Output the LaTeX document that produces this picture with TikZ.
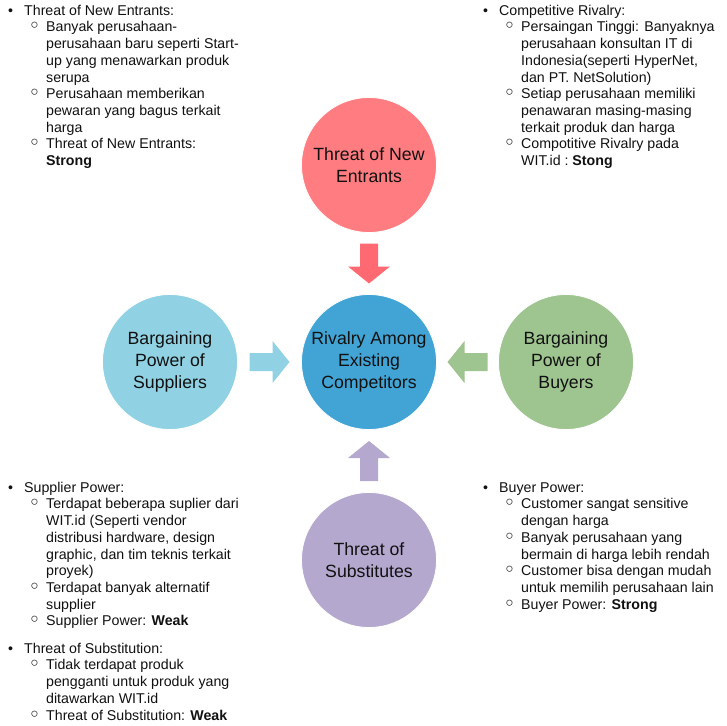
\documentclass[tikz,border=0pt]{standalone}
\usepackage{fontspec}
\setmainfont{Liberation Sans}
\newfontfamily\dejavu{DejaVu Sans}
\usetikzlibrary{calc}
\definecolor{cred}{HTML}{FF7C80}
\definecolor{credarr}{HTML}{FF6A72}
\definecolor{cblue}{HTML}{41A4D5}
\definecolor{clblue}{HTML}{90D2E3}
\definecolor{cgreen}{HTML}{9EC48F}
\definecolor{cpurple}{HTML}{B5A8CE}
\definecolor{ctext}{HTML}{111111}
\newcommand\LA{\strut\makebox[16pt][l]{•}}
\newcommand\LB{\strut\hspace*{21pt}\makebox[17pt][l]{{\dejavu\bfseries\fontsize{17}{17}\selectfont ◦}}}
\newcommand\LC{\strut\hspace*{38pt}}
\newcommand\blockarr[3]{%
  \begin{scope}[shift={(#1)}, rotate=#2]
    \fill[#3] (-20,-9) -- (3,-9) -- (3,-21) -- (20,0) -- (3,21) -- (3,9) -- (-20,9) -- cycle;
  \end{scope}}
\begin{document}
\begin{tikzpicture}[x=1pt,y=-1pt,
  circnode/.style={circle, minimum size=135pt, inner sep=0pt, align=center,
    font=\fontsize{17.7}{22}\selectfont, text=ctext, draw=white, line width=0.8pt},
  listtxt/.style={anchor=north west, inner sep=0pt, align=left,
    font=\fontsize{14.2}{16.7}\selectfont, text=ctext}]
\useasboundingbox[fill=white] (0,0) rectangle (727,725);

% circles
\node[circnode, fill=cred]    (ent) at (369,165) {Threat of New\\Entrants};
\node[circnode, fill=cblue]   (riv) at (369,362) {Rivalry Among\\Existing\\Competitors};
\node[circnode, fill=clblue]  (sup) at (170,362) {Bargaining\\Power of\\Suppliers};
\node[circnode, fill=cgreen]  (buy) at (566,362) {Bargaining\\Power of\\Buyers};
\node[circnode, fill=cpurple] (sub) at (369,560) {Threat of\\Substitutes};

% block arrows
\coordinate (mEnt) at ($(ent.south)!0.5!(riv.north)$);
\coordinate (mSup) at ($(sup.east)!0.5!(riv.west)$);
\coordinate (mBuy) at ($(buy.west)!0.5!(riv.east)$);
\coordinate (mSub) at ($(sub.north)!0.5!(riv.south)$);
\blockarr{mEnt}{-90}{credarr}
\blockarr{mSup}{0}{clblue}
\blockarr{mBuy}{180}{cgreen}
\blockarr{mSub}{90}{cpurple}

% text lists
\node[listtxt] (tl) at (8,3.31) {\LA Threat of New Entrants:\\
\LB Banyak perusahaan-\\
\LC perusahaan baru seperti Start-\\
\LC up yang menawarkan produk\\
\LC serupa\\
\LB Perusahaan memberikan\\
\LC pewaran yang bagus terkait\\
\LC harga\\
\LB Threat of New Entrants:\\
\LC \textbf{Strong}};

\node[listtxt] (tr) at (483,3.31) {\LA Competitive Rivalry:\\
\LB Persaingan Tinggi: Banyaknya\\
\LC perusahaan konsultan IT di\\
\LC Indonesia(seperti HyperNet,\\
\LC dan PT. NetSolution)\\
\LB Setiap perusahaan memiliki\\
\LC penawaran masing-masing\\
\LC terkait produk dan harga\\
\LB Compotitive Rivalry pada\\
\LC WIT.id :\ \textbf{Stong}};

\node[listtxt] (bl) at (8,480.31) {\LA Supplier Power:\\
\LB Terdapat beberapa suplier dari\\
\LC WIT.id (Seperti vendor\\
\LC distribusi hardware, design\\
\LC graphic, dan tim teknis terkait\\
\LC proyek)\\
\LB Terdapat banyak alternatif\\
\LC supplier\\
\LB Supplier Power: \textbf{Weak}};

\node[listtxt] (bl2) at (8,641.31) {\LA Threat of Substitution:\\
\LB Tidak terdapat produk\\
\LC pengganti untuk produk yang\\
\LC ditawarkan WIT.id\\
\LB Threat of Substitution: \textbf{Weak}};

\node[listtxt] (br) at (483,480.31) {\LA Buyer Power:\\
\LB Customer sangat sensitive\\
\LC dengan harga\\
\LB Banyak perusahaan yang\\
\LC bermain di harga lebih rendah\\
\LB Customer bisa dengan mudah\\
\LC untuk memilih perusahaan lain\\
\LB Buyer Power: \textbf{Strong}};
\end{tikzpicture}
\end{document}
